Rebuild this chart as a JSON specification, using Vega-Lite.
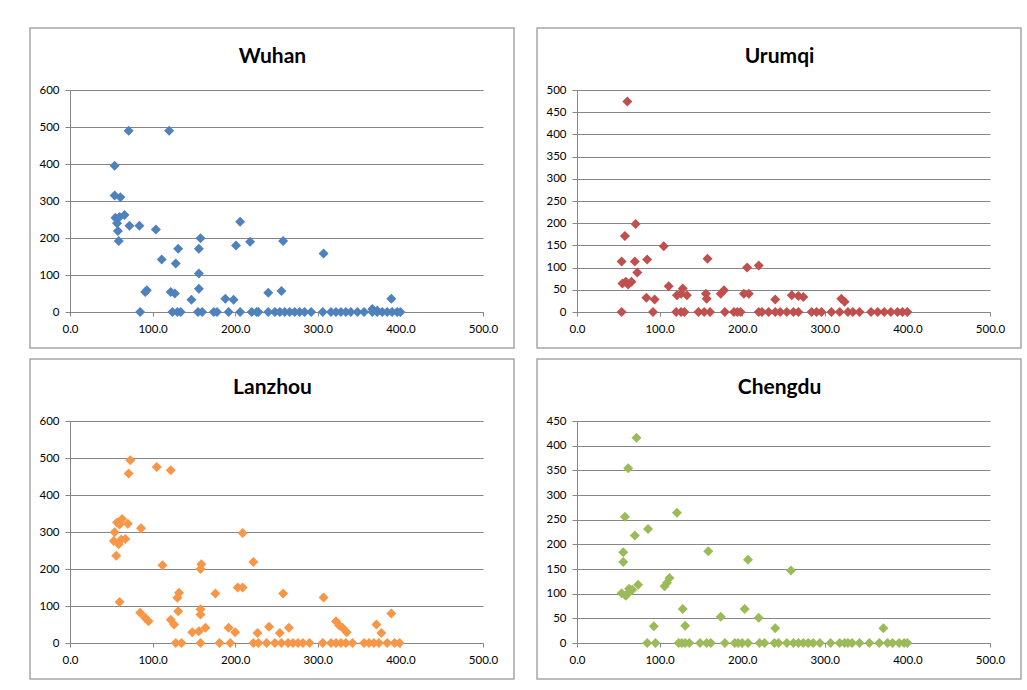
{
  "$schema": "https://vega.github.io/schema/vega-lite/v6.json",
  "background": "white",
  "padding": {"left": 29, "top": 27, "right": 0, "bottom": 0},
  "columns": 2,
  "spacing": {"row": 9, "column": 21},
  "datasets": {
    "wuhan": [
      {"x":71,"y":490},{"x":120,"y":490},{"x":54,"y":395},{"x":54,"y":315},{"x":61,"y":310},{"x":55,"y":255},{"x":60,"y":257},{"x":66,"y":262},{"x":57,"y":240},{"x":72,"y":233},{"x":84,"y":233},{"x":58,"y":219},{"x":59,"y":192},{"x":104,"y":223},{"x":111,"y":142},{"x":131,"y":171},{"x":128,"y":131},{"x":93,"y":59},{"x":91,"y":54},{"x":122,"y":54},{"x":127,"y":50},{"x":158,"y":199},{"x":156,"y":171},{"x":156,"y":104},{"x":156,"y":63},{"x":147,"y":33},{"x":188,"y":36},{"x":198,"y":33},{"x":201,"y":180},{"x":206,"y":244},{"x":218,"y":190},{"x":240,"y":52},{"x":258,"y":192},{"x":307,"y":158},{"x":256,"y":57},{"x":389,"y":36},{"x":366,"y":8},{"x":372,"y":4},
      {"x":85,"y":0},{"x":124,"y":0},{"x":130,"y":0},{"x":134,"y":0},{"x":155,"y":0},{"x":160,"y":0},{"x":174,"y":0},{"x":178,"y":0},{"x":192,"y":0},{"x":206,"y":0},{"x":220,"y":0},{"x":226,"y":0},{"x":228,"y":0},{"x":240,"y":0},{"x":248,"y":0},{"x":254,"y":0},{"x":260,"y":0},{"x":266,"y":0},{"x":272,"y":0},{"x":278,"y":0},{"x":284,"y":0},{"x":292,"y":0},{"x":306,"y":0},{"x":316,"y":0},{"x":322,"y":0},{"x":328,"y":0},{"x":334,"y":0},{"x":340,"y":0},{"x":348,"y":0},{"x":356,"y":0},{"x":366,"y":0},{"x":372,"y":0},{"x":378,"y":0},{"x":384,"y":0},{"x":390,"y":0},{"x":396,"y":0},{"x":400,"y":0}
    ],
    "urumqi": [
      {"x":61,"y":474},{"x":71,"y":198},{"x":58,"y":171},{"x":54,"y":114},{"x":70,"y":114},{"x":85,"y":118},{"x":105,"y":148},{"x":55,"y":64},{"x":59,"y":68},{"x":66,"y":68},{"x":62,"y":62},{"x":73,"y":89},{"x":84,"y":32},{"x":94,"y":28},{"x":111,"y":58},{"x":121,"y":38},{"x":126,"y":41},{"x":128,"y":53},{"x":133,"y":38},{"x":158,"y":120},{"x":156,"y":41},{"x":157,"y":30},{"x":174,"y":41},{"x":178,"y":49},{"x":202,"y":41},{"x":208,"y":41},{"x":206,"y":100},{"x":220,"y":105},{"x":240,"y":28},{"x":260,"y":38},{"x":274,"y":34},{"x":268,"y":36},{"x":320,"y":30},{"x":324,"y":23},
      {"x":54,"y":0},{"x":92,"y":0},{"x":120,"y":0},{"x":126,"y":0},{"x":130,"y":0},{"x":147,"y":0},{"x":154,"y":0},{"x":161,"y":0},{"x":179,"y":0},{"x":190,"y":0},{"x":194,"y":0},{"x":198,"y":0},{"x":220,"y":0},{"x":224,"y":0},{"x":232,"y":0},{"x":240,"y":0},{"x":246,"y":0},{"x":254,"y":0},{"x":262,"y":0},{"x":268,"y":0},{"x":284,"y":0},{"x":290,"y":0},{"x":296,"y":0},{"x":308,"y":0},{"x":318,"y":0},{"x":328,"y":0},{"x":334,"y":0},{"x":342,"y":0},{"x":356,"y":0},{"x":364,"y":0},{"x":372,"y":0},{"x":380,"y":0},{"x":388,"y":0},{"x":394,"y":0},{"x":400,"y":0}
    ],
    "lanzhou": [
      {"x":73,"y":494},{"x":71,"y":458},{"x":105,"y":476},{"x":122,"y":467},{"x":54,"y":299},{"x":57,"y":326},{"x":63,"y":335},{"x":70,"y":322},{"x":86,"y":310},{"x":53,"y":276},{"x":59,"y":267},{"x":67,"y":281},{"x":62,"y":280},{"x":60,"y":320},{"x":56,"y":236},{"x":60,"y":111},{"x":112,"y":210},{"x":85,"y":82},{"x":91,"y":68},{"x":95,"y":59},{"x":122,"y":63},{"x":126,"y":50},{"x":132,"y":136},{"x":130,"y":122},{"x":131,"y":86},{"x":159,"y":213},{"x":158,"y":200},{"x":158,"y":91},{"x":158,"y":77},{"x":148,"y":29},{"x":156,"y":32},{"x":164,"y":41},{"x":176,"y":134},{"x":192,"y":41},{"x":200,"y":29},{"x":209,"y":297},{"x":203,"y":150},{"x":209,"y":150},{"x":222,"y":219},{"x":227,"y":27},{"x":241,"y":44},{"x":258,"y":134},{"x":307,"y":123},{"x":265,"y":41},{"x":254,"y":27},{"x":322,"y":59},{"x":326,"y":47},{"x":330,"y":41},{"x":335,"y":29},{"x":371,"y":50},{"x":389,"y":80},{"x":377,"y":27},
      {"x":128,"y":0},{"x":135,"y":0},{"x":158,"y":0},{"x":181,"y":0},{"x":194,"y":0},{"x":222,"y":0},{"x":228,"y":0},{"x":238,"y":0},{"x":248,"y":0},{"x":256,"y":0},{"x":264,"y":0},{"x":270,"y":0},{"x":276,"y":0},{"x":282,"y":0},{"x":290,"y":0},{"x":306,"y":0},{"x":316,"y":0},{"x":322,"y":0},{"x":328,"y":0},{"x":334,"y":0},{"x":342,"y":0},{"x":356,"y":0},{"x":362,"y":0},{"x":368,"y":0},{"x":374,"y":0},{"x":384,"y":0},{"x":393,"y":0},{"x":399,"y":0}
    ],
    "chengdu": [
      {"x":72,"y":416},{"x":62,"y":354},{"x":58,"y":256},{"x":70,"y":218},{"x":86,"y":231},{"x":121,"y":264},{"x":56,"y":184},{"x":56,"y":164},{"x":159,"y":186},{"x":207,"y":169},{"x":54,"y":101},{"x":59,"y":96},{"x":62,"y":101},{"x":67,"y":108},{"x":74,"y":118},{"x":63,"y":110},{"x":106,"y":115},{"x":112,"y":132},{"x":109,"y":122},{"x":128,"y":69},{"x":131,"y":35},{"x":93,"y":34},{"x":174,"y":53},{"x":203,"y":69},{"x":220,"y":51},{"x":240,"y":30},{"x":259,"y":147},{"x":371,"y":30},
      {"x":85,"y":0},{"x":95,"y":0},{"x":123,"y":0},{"x":127,"y":0},{"x":131,"y":0},{"x":136,"y":0},{"x":149,"y":0},{"x":157,"y":0},{"x":162,"y":0},{"x":179,"y":0},{"x":191,"y":0},{"x":195,"y":0},{"x":200,"y":0},{"x":207,"y":0},{"x":221,"y":0},{"x":227,"y":0},{"x":239,"y":0},{"x":244,"y":0},{"x":254,"y":0},{"x":262,"y":0},{"x":268,"y":0},{"x":274,"y":0},{"x":280,"y":0},{"x":286,"y":0},{"x":294,"y":0},{"x":307,"y":0},{"x":318,"y":0},{"x":324,"y":0},{"x":328,"y":0},{"x":333,"y":0},{"x":342,"y":0},{"x":354,"y":0},{"x":366,"y":0},{"x":376,"y":0},{"x":382,"y":0},{"x":390,"y":0},{"x":396,"y":0},{"x":400,"y":0}
    ]
  },
  "concat": [
    {
      "width": 413, "height": 222,
      "data": {"name": "wuhan"},
      "resolve": {"axis": {"x": "independent", "y": "independent"}},
      "layer": [
        {"data": {"values": [{}]},
         "mark": {"type": "rect", "filled": false, "stroke": "#a6a6a6", "strokeWidth": 1.5},
         "encoding": {
           "x": {"datum": -48.4, "type": "quantitative", "scale": {"domain": [0, 500], "nice": false, "zero": false},
                 "axis": {"orient": "top", "title": "Wuhan", "labels": false, "ticks": false, "domain": false, "grid": false, "titlePadding": 24, "titleX": 202, "titleAlign": "center", "titleFont": "Lato", "titleFontSize": 21, "titleFontWeight": "bold", "titleColor": "#000000"}},
           "x2": {"datum": 537.5},
           "y": {"datum": 767.6, "type": "quantitative", "scale": {"domain": [0, 600], "nice": false, "zero": false}, "axis": null},
           "y2": {"datum": -97.3}
         }},
        {"mark": {"type": "point", "shape": "diamond", "filled": true, "size": 100, "color": "#4F81BD", "opacity": 1},
         "encoding": {
           "x": {"field": "x", "type": "quantitative", "scale": {"domain": [0, 500], "nice": false, "zero": false},
                 "axis": {"orient": "bottom", "title": null, "values": [0, 100, 200, 300, 400, 500], "format": ".1f", "grid": false}},
           "y": {"field": "y", "type": "quantitative", "scale": {"domain": [0, 600], "nice": false, "zero": false},
                 "axis": {"orient": "left", "title": null, "values": [0, 100, 200, 300, 400, 500, 600], "format": "d", "grid": true}}
         }}
      ]
    },
    {
      "width": 413, "height": 222,
      "data": {"name": "urumqi"},
      "resolve": {"axis": {"x": "independent", "y": "independent"}},
      "layer": [
        {"data": {"values": [{}]},
         "mark": {"type": "rect", "filled": false, "stroke": "#a6a6a6", "strokeWidth": 1.5},
         "encoding": {
           "x": {"datum": -48.4, "type": "quantitative", "scale": {"domain": [0, 500], "nice": false, "zero": false},
                 "axis": {"orient": "top", "title": "Urumqi", "labels": false, "ticks": false, "domain": false, "grid": false, "titlePadding": 24, "titleX": 202, "titleAlign": "center", "titleFont": "Lato", "titleFontSize": 21, "titleFontWeight": "bold", "titleColor": "#000000"}},
           "x2": {"datum": 537.5},
           "y": {"datum": 639.6, "type": "quantitative", "scale": {"domain": [0, 500], "nice": false, "zero": false}, "axis": null},
           "y2": {"datum": -81.1}
         }},
        {"mark": {"type": "point", "shape": "diamond", "filled": true, "size": 100, "color": "#C0504D", "opacity": 1},
         "encoding": {
           "x": {"field": "x", "type": "quantitative", "scale": {"domain": [0, 500], "nice": false, "zero": false},
                 "axis": {"orient": "bottom", "title": null, "values": [0, 100, 200, 300, 400, 500], "format": ".1f", "grid": false}},
           "y": {"field": "y", "type": "quantitative", "scale": {"domain": [0, 500], "nice": false, "zero": false},
                 "axis": {"orient": "left", "title": null, "values": [0, 50, 100, 150, 200, 250, 300, 350, 400, 450, 500], "format": "d", "grid": true}}
         }}
      ]
    },
    {
      "width": 413, "height": 222,
      "data": {"name": "lanzhou"},
      "resolve": {"axis": {"x": "independent", "y": "independent"}},
      "layer": [
        {"data": {"values": [{}]},
         "mark": {"type": "rect", "filled": false, "stroke": "#a6a6a6", "strokeWidth": 1.5},
         "encoding": {
           "x": {"datum": -48.4, "type": "quantitative", "scale": {"domain": [0, 500], "nice": false, "zero": false},
                 "axis": {"orient": "top", "title": "Lanzhou", "labels": false, "ticks": false, "domain": false, "grid": false, "titlePadding": 24, "titleX": 202, "titleAlign": "center", "titleFont": "Lato", "titleFontSize": 21, "titleFontWeight": "bold", "titleColor": "#000000"}},
           "x2": {"datum": 537.5},
           "y": {"datum": 767.6, "type": "quantitative", "scale": {"domain": [0, 600], "nice": false, "zero": false}, "axis": null},
           "y2": {"datum": -97.3}
         }},
        {"mark": {"type": "point", "shape": "diamond", "filled": true, "size": 100, "color": "#F79646", "opacity": 1},
         "encoding": {
           "x": {"field": "x", "type": "quantitative", "scale": {"domain": [0, 500], "nice": false, "zero": false},
                 "axis": {"orient": "bottom", "title": null, "values": [0, 100, 200, 300, 400, 500], "format": ".1f", "grid": false}},
           "y": {"field": "y", "type": "quantitative", "scale": {"domain": [0, 600], "nice": false, "zero": false},
                 "axis": {"orient": "left", "title": null, "values": [0, 100, 200, 300, 400, 500, 600], "format": "d", "grid": true}}
         }}
      ]
    },
    {
      "width": 413, "height": 222,
      "data": {"name": "chengdu"},
      "resolve": {"axis": {"x": "independent", "y": "independent"}},
      "layer": [
        {"data": {"values": [{}]},
         "mark": {"type": "rect", "filled": false, "stroke": "#a6a6a6", "strokeWidth": 1.5},
         "encoding": {
           "x": {"datum": -48.4, "type": "quantitative", "scale": {"domain": [0, 500], "nice": false, "zero": false},
                 "axis": {"orient": "top", "title": "Chengdu", "labels": false, "ticks": false, "domain": false, "grid": false, "titlePadding": 24, "titleX": 202, "titleAlign": "center", "titleFont": "Lato", "titleFontSize": 21, "titleFontWeight": "bold", "titleColor": "#000000"}},
           "x2": {"datum": 537.5},
           "y": {"datum": 575.7, "type": "quantitative", "scale": {"domain": [0, 450], "nice": false, "zero": false}, "axis": null},
           "y2": {"datum": -73}
         }},
        {"mark": {"type": "point", "shape": "diamond", "filled": true, "size": 100, "color": "#9BBB59", "opacity": 1},
         "encoding": {
           "x": {"field": "x", "type": "quantitative", "scale": {"domain": [0, 500], "nice": false, "zero": false},
                 "axis": {"orient": "bottom", "title": null, "values": [0, 100, 200, 300, 400, 500], "format": ".1f", "grid": false}},
           "y": {"field": "y", "type": "quantitative", "scale": {"domain": [0, 450], "nice": false, "zero": false},
                 "axis": {"orient": "left", "title": null, "values": [0, 50, 100, 150, 200, 250, 300, 350, 400, 450], "format": "d", "grid": true}}
         }}
      ]
    }
  ],
  "config": {
    "view": {"stroke": null},
    "axis": {
      "labelFont": "Lato", "labelFontSize": 11.5, "labelColor": "#000000",
      "domainColor": "#868686", "tickColor": "#868686", "gridColor": "#868686",
      "domainWidth": 1, "tickWidth": 1, "gridWidth": 1, "gridOpacity": 1,
      "labelOverlap": false, "labelFlush": false
    },
    "axisX": {"tickSize": 4, "labelPadding": 7},
    "axisY": {"tickSize": 5, "labelPadding": 6}
  }
}
